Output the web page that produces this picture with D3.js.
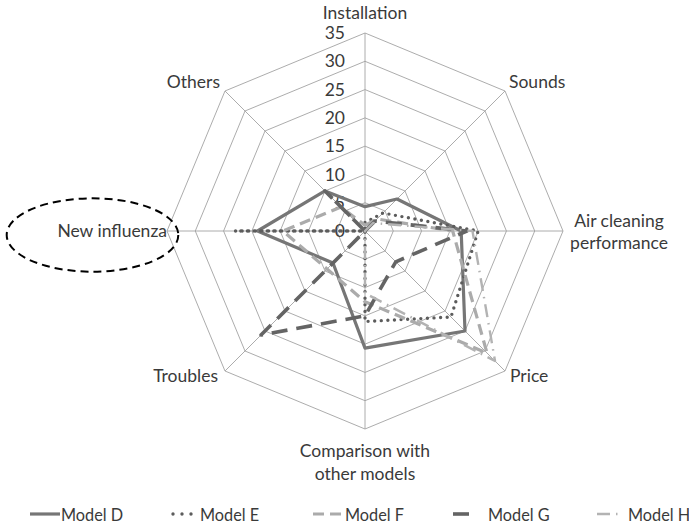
<!DOCTYPE html>
<html>
<head>
<meta charset="utf-8">
<script src="https://cdn.jsdelivr.net/npm/d3@7"></script>
<style>
    body { margin: 0; background: #fff; }
    text { font-family: Lato, "Open Sans", sans-serif; font-size: 17.5px; fill: #3a3a3a; }
    .leg text { font-size: 16.3px; }
</style>
</head>
<body>
<svg id="chart" width="689" height="527"></svg>
<script>
let categories = [
    "Installation",
    "Sounds",
    "Air cleaning\nperformance",
    "Price",
    "Comparison with\nother models",
    "Troubles",
    "New influenza",
    "Others"
];
let tickValues = [0, 5, 10, 15, 20, 25, 30, 35];

let modelD = [4.3, 8, 17, 25, 20.7, 8, 19, 10];
let modelE = [1.5, 4.5, 20, 21.5, 16, 0, 23, 0];
let modelF = [1, 3, 15.5, 30.5, 12.5, 9.5, 14.5, 6];
let modelG = [0, 2.5, 18, 7.7, 15, 26, 0, 10];
let modelH = [0, 2, 19, 32.5, 11, 0, 0, 0];

let seriesNames = ["Model D", "Model E", "Model F", "Model G", "Model H"];

// line looks, same order as seriesNames
let styles = [
    {color: "#767676", width: 3.2, dash: null, cap: "butt"},
    {color: "#5c5c5c", width: 3.4, dash: "0 6.6", cap: "round"},
    {color: "#ababab", width: 3.2, dash: "11 6", cap: "butt"},
    {color: "#646464", width: 3.6, dash: "16 9", cap: "butt"},
    {color: "#b3b3b3", width: 2.4, dash: "13 6 1.5 6", cap: "butt"}
];

// where each axis label sits, relative to the end of its spoke
let labelPos = [
    {anchor: "middle", dx: 0, dy: -14.5},
    {anchor: "start", dx: 4, dy: -3},
    {anchor: "middle", dx: 56, dy: -4.5},
    {anchor: "start", dx: 5, dy: 11},
    {anchor: "middle", dx: 0, dy: 28},
    {anchor: "end", dx: -7, dy: 11},
    {anchor: "end", dx: 0, dy: 6},
    {anchor: "end", dx: -5, dy: -3}
];

// legend sample lines: x0, x1 and where the text starts
let legendPos = [
    {x0: 30, x1: 60, tx: 61},
    {x0: 173, x1: 193, tx: 200},
    {x0: 313, x1: 341, tx: 345},
    {x0: 453, x1: 469, tx: 488},
    {x0: 597, x1: 623, tx: 628}
];

let radarChart = (element) => {
    let svg = d3.select(element);
    let cx = 365, cy = 231;
    let n = categories.length;
    let r = d3.scaleLinear().domain([0, 35]).range([0, 198]);
    let angle = (i) => i * 2 * Math.PI / n;

    let g = svg.append("g").attr("transform", "translate(" + cx + "," + cy + ")");

    let radial = d3.lineRadial()
        .angle((d, i) => angle(i))
        .radius((d) => r(d))
        .curve(d3.curveLinearClosed);

    // grid rings
    g.selectAll(".ring")
        .data(tickValues.slice(1))
        .enter()
        .append("path")
        .attr("class", "ring")
        .attr("d", (t) => radial(categories.map(() => t)))
        .attr("fill", "none")
        .attr("stroke", "#a3a3a3")
        .attr("stroke-width", 0.9);

    // spokes
    g.selectAll(".spoke")
        .data(categories)
        .enter()
        .append("line")
        .attr("x1", 0).attr("y1", 0)
        .attr("x2", (d, i) => r(35) * Math.sin(angle(i)))
        .attr("y2", (d, i) => -r(35) * Math.cos(angle(i)))
        .attr("stroke", "#a3a3a3")
        .attr("stroke-width", 0.9);

    // value labels on the vertical axis
    g.selectAll(".tick")
        .data(tickValues)
        .enter()
        .append("text")
        .attr("x", -20)
        .attr("y", (t) => -r(t))
        .attr("dy", "0.35em")
        .attr("text-anchor", "end")
        .text((t) => t);

    // series
    let allSeries = [modelD, modelE, modelF, modelG, modelH];
    g.selectAll(".series")
        .data(allSeries)
        .enter()
        .append("path")
        .attr("class", "series")
        .attr("d", (d) => radial(d))
        .attr("fill", "none")
        .attr("stroke", (d, i) => styles[i].color)
        .attr("stroke-width", (d, i) => styles[i].width)
        .attr("stroke-dasharray", (d, i) => styles[i].dash)
        .attr("stroke-linecap", (d, i) => styles[i].cap)
        .attr("stroke-linejoin", "round");

    // axis labels
    let labels = g.selectAll(".cat")
        .data(categories)
        .enter()
        .append("text")
        .attr("class", "cat")
        .attr("text-anchor", (d, i) => labelPos[i].anchor)
        .attr("transform", (d, i) => {
            let x = r(35) * Math.sin(angle(i)) + labelPos[i].dx;
            let y = -r(35) * Math.cos(angle(i)) + labelPos[i].dy;
            return "translate(" + x + "," + y + ")";
        });
    labels.selectAll("tspan")
        .data((d) => d.split("\n"))
        .enter()
        .append("tspan")
        .attr("x", 0)
        .attr("y", (d, j) => j * 22.5)
        .text((d) => d);

    // the dashed ring round "New influenza"
    svg.append("ellipse")
        .attr("cx", 92.5).attr("cy", 235)
        .attr("rx", 85.8).attr("ry", 36.7)
        .attr("fill", "none")
        .attr("stroke", "#000")
        .attr("stroke-width", 2)
        .attr("stroke-dasharray", "8 5");

    // legend
    let leg = svg.selectAll(".leg")
        .data(seriesNames)
        .enter()
        .append("g")
        .attr("class", "leg");
    leg.append("line")
        .attr("x1", (d, i) => legendPos[i].x0)
        .attr("x2", (d, i) => legendPos[i].x1)
        .attr("y1", 514).attr("y2", 514)
        .attr("stroke", (d, i) => styles[i].color)
        .attr("stroke-width", (d, i) => styles[i].width)
        .attr("stroke-dasharray", (d, i) => i === 1 ? "0 9" : styles[i].dash)
        .attr("stroke-linecap", (d, i) => styles[i].cap);
    leg.append("text")
        .attr("x", (d, i) => legendPos[i].tx)
        .attr("y", 520.5)
        .text((d) => d);
}

radarChart("#chart");
</script>
</body>
</html>
